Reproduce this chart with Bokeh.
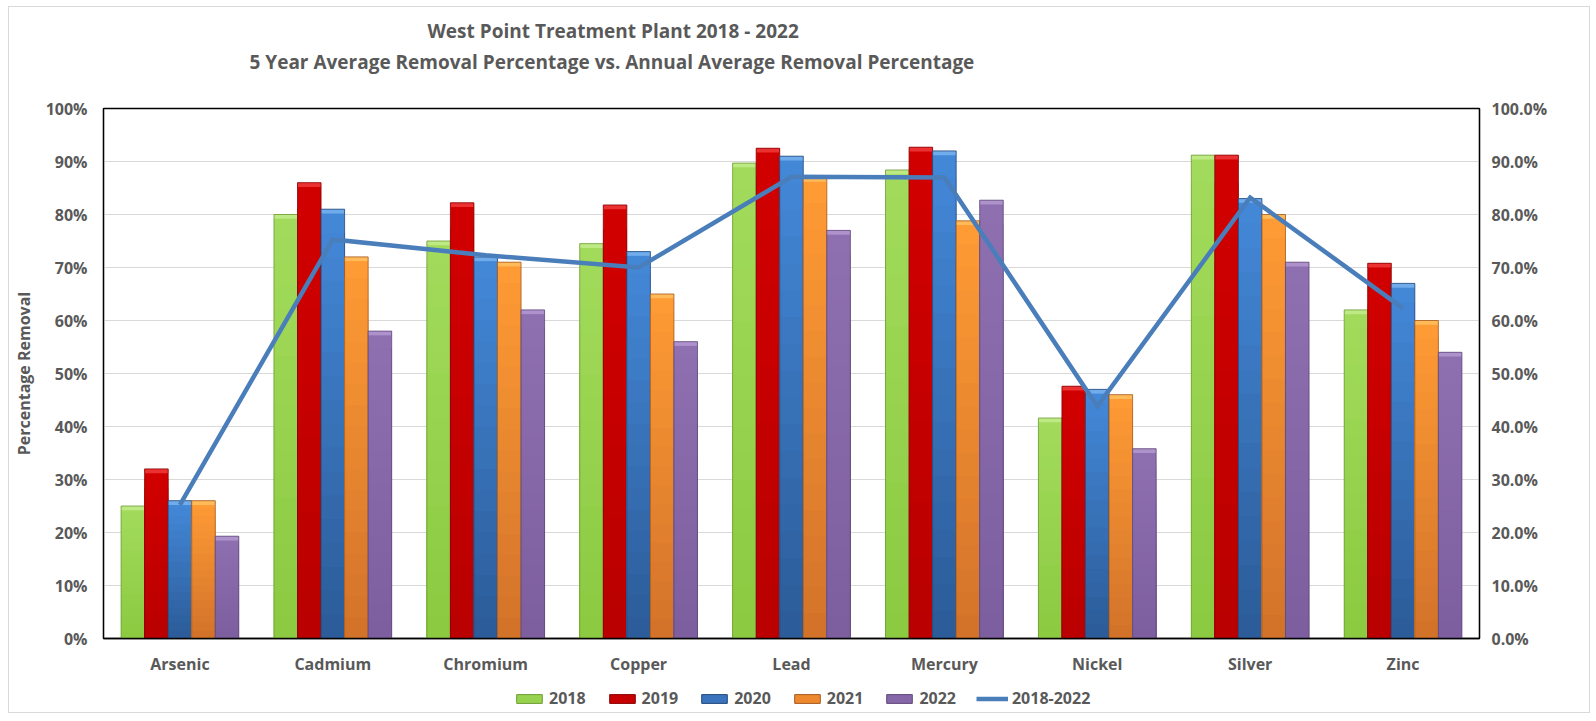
from bokeh.plotting import figure
from bokeh.layouts import column
from bokeh.models import (Range1d, FactorRange, LinearAxis, NumeralTickFormatter,
                          SingleIntervalTicker, ColumnDataSource, Legend, LegendItem, Title)
from bokeh.transform import dodge
from bokeh.embed import file_html
from bokeh.resources import INLINE

# ---------------- data ----------------
categories = ["Arsenic", "Cadmium", "Chromium", "Copper", "Lead",
              "Mercury", "Nickel", "Silver", "Zinc"]
years = ["2018", "2019", "2020", "2021", "2022"]
v2018 = [25.0, 80.0, 75.0, 74.5, 89.7, 88.4, 41.6, 91.2, 62.0]
v2019 = [32.0, 86.0, 82.2, 81.8, 92.5, 92.7, 47.6, 91.2, 70.8]
v2020 = [26.0, 81.0, 72.0, 73.0, 91.0, 92.0, 47.0, 83.0, 67.0]
v2021 = [26.0, 72.0, 71.0, 65.0, 87.0, 78.8, 46.0, 80.0, 60.0]
v2022 = [19.3, 58.0, 62.0, 56.0, 77.0, 82.7, 35.8, 71.0, 54.0]
avg_2018_2022 = [25.2, 75.3, 72.3, 70.0, 87.1, 87.0, 43.8, 83.2, 62.3]
series_values = [v2018, v2019, v2020, v2021, v2022]

title_line1 = "West Point Treatment Plant  2018 - 2022"
title_line2 = "5 Year Average Removal Percentage vs. Annual Average Removal Percentage"
y_label = "Percentage Removal"
line_label = "2018-2022"

# ---------------- style ----------------
FONT = "Open Sans"
GREY = "#595959"
top_colors = ["#A3DC5C", "#D20000", "#4489D9", "#FF9C35", "#8F6FB1"]
bottom_colors = ["#8BC941", "#B90000", "#2B5B97", "#D2722A", "#7C5E9D"]
mid_colors = ["#97D34F", "#C60000", "#3A74BD", "#EE8930", "#8667A8"]
cap_colors = ["#C2EC8C", "#F03A3A", "#78B2F0", "#FFC060", "#B399D0"]
edge_colors = ["#6E9C33", "#8A0000", "#22497A", "#A65A1E", "#5F4879"]
LINE_COLOR = "#4A7EBB"
BAR_W = 0.154
N_BANDS = 18
CAP = 0.008


def mix(c1, c2, t):
    a = [int(c1[i:i + 2], 16) for i in (1, 3, 5)]
    b = [int(c2[i:i + 2], 16) for i in (1, 3, 5)]
    return "#%02x%02x%02x" % tuple(round(a[k] + (b[k] - a[k]) * t) for k in range(3))


p = figure(width=1580, height=672,
           x_range=FactorRange(factors=categories, range_padding=0),
           y_range=Range1d(0, 1),
           output_backend="svg", toolbar_location=None,
           min_border_left=94, min_border_right=110,
           min_border_top=101, min_border_bottom=41)

for s, vals in enumerate(series_values):
    off = (s - 2) * BAR_W
    xs, tops, cols = [], [], []
    for j in range(N_BANDS):
        frac = (N_BANDS - j) / N_BANDS
        col = mix(bottom_colors[s], top_colors[s], (N_BANDS - j - 0.5) / N_BANDS)
        for ci, cat in enumerate(categories):
            xs.append(cat)
            tops.append(vals[ci] / 100.0 * frac)
            cols.append(col)
    band_src = ColumnDataSource(dict(x=xs, top=tops, color=cols))
    p.vbar(x=dodge("x", off, range=p.x_range), top="top", bottom=0, width=BAR_W,
           fill_color="color", line_color=None, source=band_src)
    src = ColumnDataSource(dict(x=categories, top=[v / 100.0 for v in vals],
                                capb=[v / 100.0 - CAP for v in vals]))
    p.vbar(x=dodge("x", off, range=p.x_range), top="top", bottom="capb", width=BAR_W,
           fill_color=cap_colors[s], fill_alpha=0.85, line_color=None, source=src)
    p.vbar(x=dodge("x", off, range=p.x_range), top="top", bottom=0, width=BAR_W,
           fill_color=None, line_color=edge_colors[s], line_width=1, line_alpha=0.8,
           source=src)

p.line(x=categories, y=[v / 100.0 for v in avg_2018_2022],
       line_color=LINE_COLOR, line_width=4.5, line_join="miter")

# ---------------- axes ----------------
p.xgrid.grid_line_color = None
p.ygrid.grid_line_color = "#d9d9d9"
p.ygrid.grid_line_width = 1
p.outline_line_color = "black"
p.outline_line_width = 1.3
p.background_fill_color = "white"
p.border_fill_color = "white"

ya = p.yaxis[0]
ya.ticker = SingleIntervalTicker(interval=0.1, num_minor_ticks=0)
ya.formatter = NumeralTickFormatter(format="0%")
ya.axis_label = y_label
p.ygrid.ticker = ya.ticker

p.extra_y_ranges = {"right": Range1d(0, 1)}
ra = LinearAxis(y_range_name="right",
                ticker=SingleIntervalTicker(interval=0.1, num_minor_ticks=0),
                formatter=NumeralTickFormatter(format="0.0%"))
p.add_layout(ra, "right")

for ax in [ya, ra, p.xaxis[0]]:
    ax.axis_line_color = "black"
    ax.axis_line_width = 1.3
    ax.major_tick_line_color = None
    ax.minor_tick_line_color = None
    ax.major_tick_out = 0
    ax.major_tick_in = 0
    ax.major_label_text_font = FONT
    ax.major_label_text_font_size = "16px"
    ax.major_label_text_font_style = "bold"
    ax.major_label_text_color = GREY

ya.major_label_standoff = 16
ra.major_label_standoff = 12
p.xaxis[0].major_label_standoff = 14
ya.axis_label_text_font = FONT
ya.axis_label_text_font_size = "16px"
ya.axis_label_text_font_style = "bold"
ya.axis_label_text_color = GREY
ya.axis_label_standoff = 8

# ---------------- titles ----------------
# spacer closest to the frame, then line 2, then line 1 (p.title, outermost)
spacer = Title(text=" ", text_font_size="1px", standoff=29)
p.add_layout(spacer, "above")
t2 = Title(text=title_line2, text_font=FONT, text_font_size="19px",
           text_font_style="bold", text_color=GREY, align="left", offset=146, standoff=3)
p.add_layout(t2, "above")
p.title.text = title_line1
p.title.text_font = FONT
p.title.text_font_size = "19px"
p.title.text_font_style = "bold"
p.title.text_color = GREY
p.title.align = "left"
p.title.offset = 324
p.title.standoff = 3

# ---------------- legend (own strip below the chart) ----------------
lg = figure(width=1580, height=33, x_range=Range1d(0, 1), y_range=Range1d(0, 1),
            output_backend="svg", toolbar_location=None, title=None,
            x_axis_location=None, y_axis_location=None,
            min_border_left=0, min_border_right=0, min_border_top=0, min_border_bottom=0)
lg.outline_line_color = None
lg.grid.visible = False
lg.background_fill_color = "white"
lg.border_fill_color = "white"

items = []
for s in range(len(years)):
    rr = lg.vbar(x=[0], top=[0], bottom=[0], width=0, fill_color=mid_colors[s],
                 line_color=edge_colors[s], line_width=1)
    items.append(LegendItem(label=years[s], renderers=[rr]))
rl = lg.line(x=[0, 0], y=[0, 0], line_color=LINE_COLOR, line_width=4.5)
items.append(LegendItem(label=line_label, renderers=[rl]))

legend = Legend(items=items, orientation="horizontal", location=(410, 3),
                glyph_width=32, glyph_height=11, label_standoff=4, spacing=20,
                padding=0, margin=0, border_line_color=None, background_fill_alpha=0,
                label_text_font=FONT, label_text_font_size="16px",
                label_text_font_style="bold", label_text_color=GREY, label_height=14)
lg.add_layout(legend, "center")

layout = column(p, lg, spacing=0,
                styles={"margin": "6px 0 0 8px", "border": "1px solid #d9d9d9"})

open("out.html", "w").write(file_html(layout, INLINE))
